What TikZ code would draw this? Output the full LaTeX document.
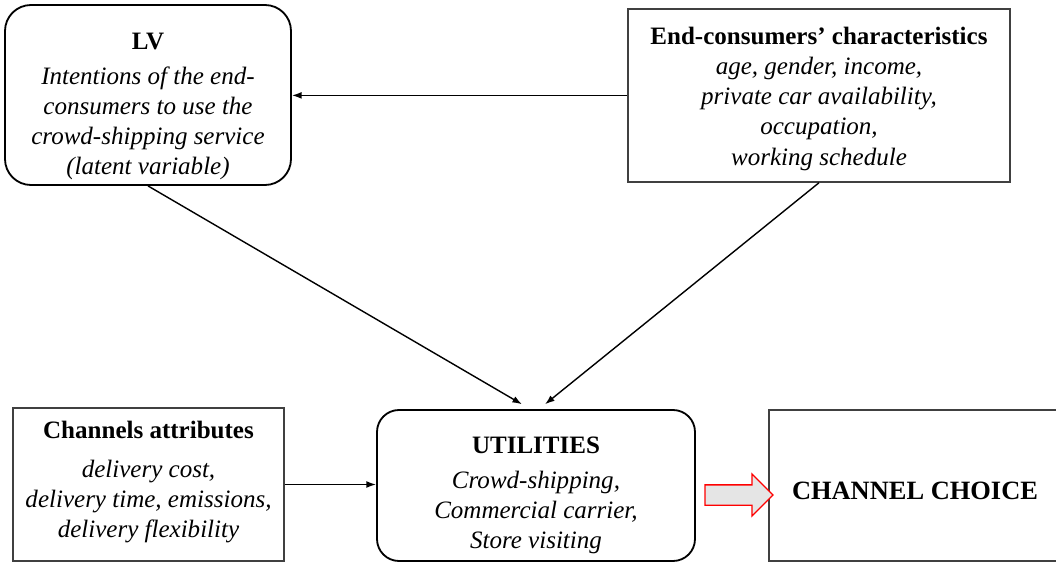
\documentclass[tikz,border=0pt]{standalone}
\usepackage{fontspec}
\setmainfont{Liberation Serif}
\usetikzlibrary{shapes.arrows, arrows.meta, positioning, calc}

% struts to move the text inside a box up or down
\newcommand{\topstrut}[1]{\rule{0pt}{#1}}
\newcommand{\botstrut}[1]{\rule[-#1]{0pt}{#1}}

\begin{document}
\begin{tikzpicture}[
        font=\fontsize{17.8}{21.5}\selectfont,
        roundbox/.style={rectangle, rounded corners=0.65cm, draw=black, line width=1.3pt, align=center, inner sep=0pt},
        plainbox/.style={rectangle, draw=black!75, line width=1.2pt, align=center, inner sep=0pt},
        arrow/.style={-{Latex[length=2.4mm, width=1.7mm]}, line width=1pt},
        bigarrow/.style={single arrow, draw=red, line width=0.9pt, fill=gray!20, inner xsep=0pt, inner ysep=0.2375cm,
            single arrow head extend=0.275cm, minimum height=1.7cm}
    ]
        \useasboundingbox (0,0) rectangle (26.4,14.075);

        \node[roundbox, minimum width=7.15cm, minimum height=4.5cm] (lv) at (3.7,11.7)
            {\topstrut{28pt}\textbf{LV}\\[3.5pt] \textit{Intentions of the end-}\\ \textit{consumers to use the}\\
             \textit{crowd-shipping service}\\ \textit{(latent variable)}};
        \node[plainbox, minimum width=9.55cm, minimum height=4.325cm] (consumers) at (20.475,11.69)
            {\topstrut{17pt}\textbf{End-consumers’ characteristics}\\ \textit{age, gender, income,}\\
             \textit{private car availability,}\\ \textit{occupation,}\\ \textit{working schedule}};
        \node[plainbox, minimum width=6.775cm, minimum height=3.825cm] (attributes) at (3.7125,1.9625)
            {\textbf{Channels attributes}\\[6pt] \textit{delivery cost,}\\
             \textit{delivery time, emissions,}\\ \textit{delivery flexibility}\botstrut{7pt}};
        \node[roundbox, rounded corners=0.55cm, minimum width=7.95cm, minimum height=3.775cm] (utilities) at (13.4,1.9375)
            {\topstrut{26pt}\textbf{UTILITIES}\\[3.5pt] \textit{Crowd-shipping,}\\
             \textit{Commercial carrier,}\\ \textit{Store visiting}};
        \node[plainbox, minimum width=7.3cm, minimum height=3.775cm, font=\fontsize{18.8}{22}\selectfont] (choice) at (22.875,1.9375)
            {\topstrut{20.5pt}\textbf{CHANNEL CHOICE}};
        \node[bigarrow] (choicearrow) at (18.35,1.7) {};

        \draw[arrow] (consumers.west) -- (consumers.west -| lv.east);
        \draw[arrow] (lv.south) -- ([xshift=-0.35cm, yshift=0.12cm]utilities.north);
        \draw[arrow] (consumers.south) -- ([xshift=0.225cm, yshift=0.12cm]utilities.north);
        \draw[arrow] (attributes.east) -- (attributes.east -| utilities.west);
    \end{tikzpicture}
\end{document}
